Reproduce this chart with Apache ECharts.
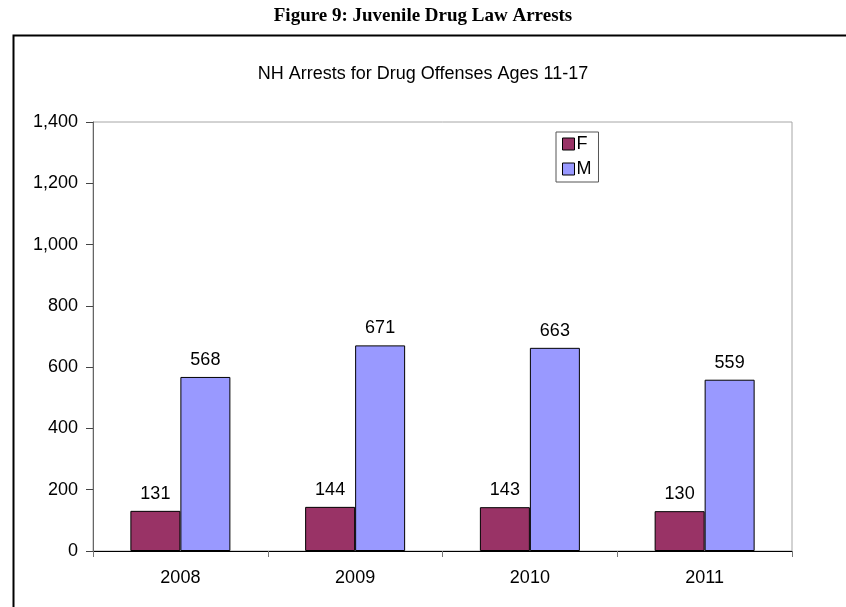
<!DOCTYPE html>
<html>
<head>
<meta charset="utf-8">
<script src="https://cdn.jsdelivr.net/npm/echarts@6/dist/echarts.min.js"></script>
<style>html,body{margin:0;padding:0;background:#fff}#c{width:846px;height:607px}</style>
</head>
<body>
<div id="c"></div>
<script>
const categories = ['2008', '2009', '2010', '2011'];
const femaleValues = [131, 144, 143, 130];
const maleValues = [568, 671, 663, 559];
const seriesNames = ['F', 'M'];
const yTicks = [0, 200, 400, 600, 800, 1000, 1200, 1400];

const chart = echarts.init(document.getElementById('c'));
const font = '"Liberation Sans", Arial, sans-serif';
chart.setOption({
  animation: false,
  backgroundColor: '#fff',
  title: [{
    text: 'Figure 9: Juvenile Drug Law Arrests',
    left: 'center', top: 2,
    textStyle: { fontFamily: '"Liberation Serif", "Times New Roman", serif', fontWeight: 'bold', fontSize: 19, color: '#000' }
  }, {
    text: 'NH Arrests for Drug Offenses Ages 11-17',
    left: 'center', top: 60,
    textStyle: { fontFamily: font, fontWeight: 'normal', fontSize: 18, color: '#000' }
  }],
  graphic: [{
    type: 'rect', left: 11, top: 33, z: 100,
    shape: { x: 0, y: 0, width: 900, height: 700 },
    style: { fill: 'none', stroke: '#000', lineWidth: 2 }
  }],
  legend: {
    orient: 'vertical', left: 556, top: 132,
    data: seriesNames,
    itemWidth: 12, itemHeight: 12, itemGap: 7,
    padding: [3, 7, 4, 6],
    borderColor: '#555', borderWidth: 1,
    textStyle: { fontFamily: font, fontSize: 18, color: '#000', padding: [0, 0, 0, -3] },
    itemStyle: { borderColor: '#000', borderWidth: 1 },
    icon: 'rect'
  },
  grid: { left: 93, right: 54, top: 122, bottom: 56, show: true, borderColor: '#a6a6a6', borderWidth: 1 },
  xAxis: {
    type: 'category', data: categories,
    axisLine: { lineStyle: { color: '#000', width: 1 } },
    axisTick: { show: true, alignWithLabel: false, length: 6, lineStyle: { color: '#777' } },
    axisLabel: { fontFamily: font, fontSize: 18, color: '#000', margin: 18 }
  },
  yAxis: {
    type: 'value', min: yTicks[0], max: yTicks[yTicks.length - 1], interval: 200,
    axisLine: { show: true, lineStyle: { color: '#666', width: 1 } },
    axisTick: { show: true, length: 7, lineStyle: { color: '#444' } },
    splitLine: { show: false },
    axisLabel: { fontFamily: font, fontSize: 18, color: '#000', margin: 15,
      formatter: v => v.toLocaleString('en-US') }
  },
  series: [{
    name: seriesNames[0], type: 'bar', data: femaleValues,
    barWidth: 50, barGap: '0%',
    itemStyle: { color: '#993366', borderColor: '#000', borderWidth: 1 },
    label: { show: true, position: 'top', distance: 8, fontFamily: font, fontSize: 18, color: '#000' }
  }, {
    name: seriesNames[1], type: 'bar', data: maleValues,
    barWidth: 50, barGap: '0%',
    itemStyle: { color: '#9999FF', borderColor: '#000', borderWidth: 1 },
    label: { show: true, position: 'top', distance: 8, fontFamily: font, fontSize: 18, color: '#000' }
  }]
});
</script>
</body>
</html>
